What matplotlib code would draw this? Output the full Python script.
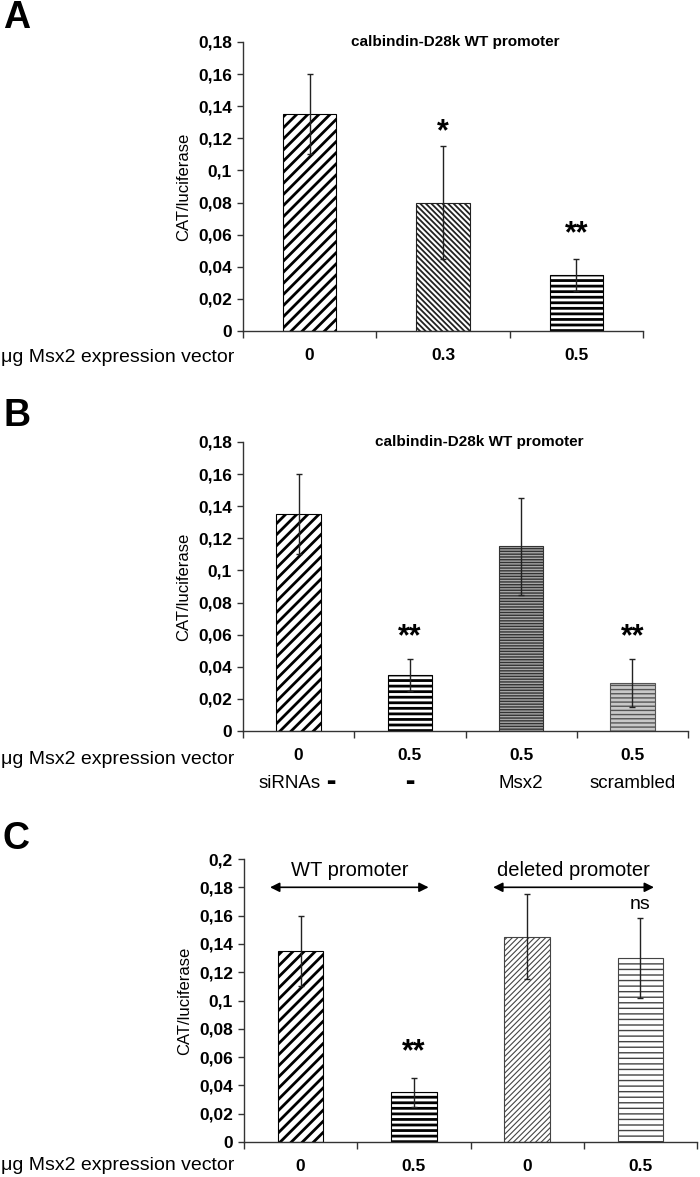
import numpy as np
import matplotlib
matplotlib.use("Agg")
import matplotlib.pyplot as plt

W, H = 700, 1177

# панель A
a_labels = ["0", "0.3", "0.5"]
a_vals = [0.135, 0.080, 0.035]
a_err = [0.025, 0.035, 0.010]

# панель B
b_labels = ["0", "0.5", "0.5", "0.5"]
b_sirna = ["siRNAs", "", "Msx2", "scrambled"]
b_vals = [0.135, 0.035, 0.115, 0.030]
b_err = [0.025, 0.010, 0.030, 0.015]

# панель C
c_labels = ["0", "0.5", "0", "0.5"]
c_vals = [0.135, 0.035, 0.145, 0.130]
c_err = [0.025, 0.010, 0.030, 0.028]

narrow = ["Liberation Sans Narrow", "Liberation Sans", "DejaVu Sans"]
plt.rcParams["font.family"] = ["Liberation Sans", "DejaVu Sans"]

fig = plt.figure(figsize=(W / 100, H / 100), dpi=100)


def make_ax(l, r, t, b):
    return fig.add_axes([l / W, 1 - b / H, (r - l) / W, (b - t) / H])


def styles_bar(ax, x, v, e, style):
    face, edge, hatch, hlw = style
    plt.rcParams["hatch.linewidth"] = hlw
    p = ax.bar(x, v, width=0.4, color=face, edgecolor=edge, hatch=hatch,
               linewidth=0.8, zorder=2)[0]
    if hasattr(p, "set_hatch_linewidth"):
        p.set_hatch_linewidth(hlw)
    ax.errorbar(x, v, yerr=e, fmt="none", ecolor="#222222", elinewidth=1,
                capsize=2.5, capthick=1, zorder=3)


def setup(ax, labels, ymax, step, tick_fmt):
    n = len(labels)
    ax.set_xlim(-0.5, n - 0.5)
    ax.set_ylim(0, ymax)
    for s in ["top", "right"]:
        ax.spines[s].set_visible(False)
    for s in ["left", "bottom"]:
        ax.spines[s].set_color("#333333")
        ax.spines[s].set_linewidth(1)
    yt = np.arange(0, ymax + 1e-9, step)
    ax.set_yticks(yt)
    ax.set_yticklabels([tick_fmt(v) for v in yt], fontfamily=narrow,
                       fontweight="bold", fontsize=12.5)
    ax.tick_params(axis="y", length=4, width=1, color="#333333", pad=4)
    ax.set_xticks(range(n))
    ax.set_xticklabels(labels, fontfamily=narrow, fontweight="bold", fontsize=12.5)
    ax.tick_params(axis="x", which="major", length=0, pad=12)
    ax.set_xticks(np.arange(-0.5, n), minor=True)
    ax.tick_params(axis="x", which="minor", length=5, width=1, color="#333333")
    ax.set_ylabel("CAT/luciferase", fontsize=12, labelpad=5)


def fmt(v):
    s = ("%.2f" % v).rstrip("0").rstrip(".")
    return s.replace(".", ",")


# ---------- A ----------
axA = make_ax(243, 643, 42, 331)
stA = [("white", "black", "///", 2.0),
       ("white", "#222222", "\\\\\\\\\\\\", 1.3),
       ("white", "black", "---", 2.0)]
for i in range(3):
    styles_bar(axA, i, a_vals[i], a_err[i], stA[i])
setup(axA, a_labels, 0.18, 0.02, fmt)
axA.text(0.53, 1.0, "calbindin-D28k WT promoter", transform=axA.transAxes,
         ha="center", va="center", fontfamily=narrow, fontweight="bold",
         fontsize=11)
axA.text(1, 0.124, "*", ha="center", va="center", fontsize=22, fontweight="bold")
axA.text(2, 0.060, "**", ha="center", va="center", fontsize=22, fontweight="bold")

# ---------- B ----------
axB = make_ax(243, 688, 442, 731)
stB = [("white", "black", "///", 2.0),
       ("white", "black", "---", 2.0),
       ("#a8a8a8", "#333333", "------", 1.0),
       ("#c8c8c8", "#555555", "----", 1.0)]
for i in range(4):
    styles_bar(axB, i, b_vals[i], b_err[i], stB[i])
setup(axB, b_labels, 0.18, 0.02, fmt)
axB.text(0.53, 1.0, "calbindin-D28k WT promoter", transform=axB.transAxes,
         ha="center", va="center", fontfamily=narrow, fontweight="bold",
         fontsize=11)
for i in [1, 3]:
    axB.text(i, 0.0585, "**", ha="center", va="center", fontsize=22,
             fontweight="bold")
# строка siRNAs
axB.annotate(b_sirna[0], (0, 0), xycoords=("data", "axes fraction"),
             xytext=(22, -52), textcoords="offset pixels",
             ha="right", va="center", fontsize=13.5)
for i, dx in [(0, 32), (1, 0)]:
    axB.annotate("\u25ac", (i, 0), xycoords=("data", "axes fraction"),
                 xytext=(dx, -51), textcoords="offset pixels",
                 ha="center", va="center", fontsize=7, family="DejaVu Sans")
for i in [2, 3]:
    axB.annotate(b_sirna[i], (i, 0), xycoords=("data", "axes fraction"),
                 xytext=(0, -52), textcoords="offset pixels",
                 ha="center", va="center", fontsize=13.5)

# ---------- C ----------
axC = make_ax(244, 697, 859, 1142)
stC = [("white", "black", "///", 2.0),
       ("white", "black", "---", 2.0),
       ("white", "#444444", "//////", 0.8),
       ("white", "#444444", "---", 1.0)]
for i in range(4):
    styles_bar(axC, i, c_vals[i], c_err[i], stC[i])
setup(axC, c_labels, 0.2, 0.02, fmt)
axC.text(1, 0.0636, "**", ha="center", va="center", fontsize=22, fontweight="bold")
axC.text(3, 0.1675, "ns", ha="center", va="center", fontsize=14)
for x0, x1, lab in [(-0.27, 1.13, "WT promoter"), (1.7, 3.12, "deleted promoter")]:
    axC.annotate("", xy=(x0, 0.18), xytext=(x1, 0.18),
                 arrowprops=dict(arrowstyle="<|-|>", color="black", lw=1.2,
                                 mutation_scale=14, shrinkA=0, shrinkB=0),
                 annotation_clip=False)
    axC.text((x0 + x1) / 2, 0.192, lab, ha="center", va="center", fontsize=14.5)

# подписи слева
for y in [357, 760, 1165]:
    fig.text(1 / W, 1 - y / H, "\u03bcg Msx2 expression vector", ha="left",
             va="center", fontsize=14)

for y, lab in [(18, "A"), (416, "B"), (839, "C")]:
    fig.text(3 / W, 1 - y / H, lab, ha="left", va="center", fontsize=27,
             fontweight="bold")

fig.savefig("out.png", dpi=100)
